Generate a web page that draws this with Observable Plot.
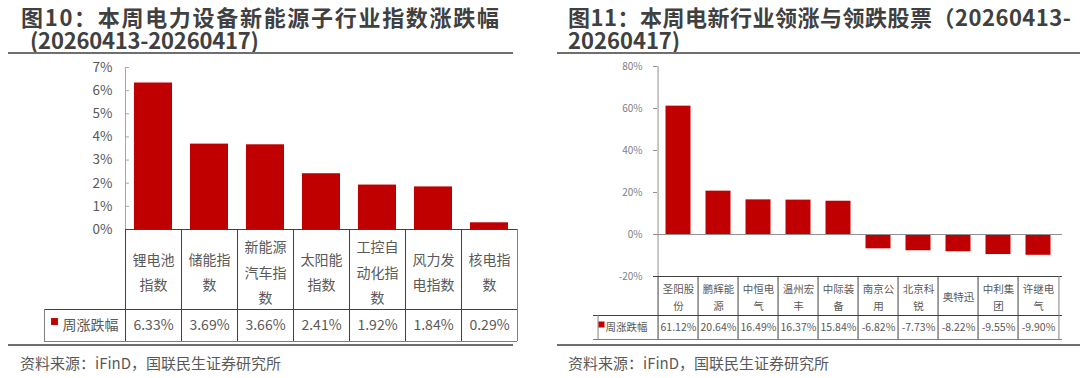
<!DOCTYPE html>
<html>
<head>
<meta charset="utf-8">
<script src="https://cdn.jsdelivr.net/npm/d3@7"></script>
<script src="https://cdn.jsdelivr.net/npm/@observablehq/plot@0.6"></script>
<style>
  html, body { margin: 0; padding: 0; background: #fff; }
  body { width: 1080px; height: 378px; position: relative; overflow: hidden;
         font-family: "Noto Sans CJK SC", "Noto Sans", sans-serif; }
  .abs { position: absolute; white-space: nowrap; }
  .title { font-size: 22px; font-weight: bold; color: #404040; line-height: 23px; letter-spacing: 0.5px; }
  .rule { position: absolute; height: 2px; background: #6f6f6f; }
  .src { font-size: 15px; color: #595959; line-height: 18px; }
</style>
</head>
<body>
<div class="abs title" style="left:21px; top:5px;"><span style="letter-spacing:1.7px;">图10：本周电力设备新能源子行业指数涨跌幅</span><br><span style="padding-left:9px; letter-spacing:-0.2px;">(20260413-20260417)</span></div>
<div class="rule" style="left:8px; top:52px; width:505px;"></div>
<div class="rule" style="left:8px; top:344px; width:505px;"></div>
<div class="abs src" style="left:20px; top:354px;">资料来源：iFinD，国联民生证券研究所</div>

<div class="abs title" style="left:568px; top:5px;">图11：本周电新行业领涨与领跌股票（20260413-<br><span style="letter-spacing:0px;">20260417)</span></div>
<div class="rule" style="left:557px; top:52px; width:523px;"></div>
<div class="rule" style="left:557px; top:344px; width:523px;"></div>
<div class="abs src" style="left:568px; top:354px;">资料来源：iFinD，国联民生证券研究所</div>

<div id="left" class="abs" style="left:0px; top:57px;"></div>
<div id="right" class="abs" style="left:540px; top:57px;"></div>

<script>
// ---------- data ----------
const leftCategories = ["锂电池指数", "储能指数", "新能源汽车指数", "太阳能指数", "工控自动化指数", "风力发电指数", "核电指数"];
const leftLabels = ["锂电池\n指数", "储能指\n数", "新能源\n汽车指\n数", "太阳能\n指数", "工控自\n动化指\n数", "风力发\n电指数", "核电指\n数"];
const leftValues = [6.33, 3.69, 3.66, 2.41, 1.92, 1.84, 0.29];
const leftTicks = [0, 1, 2, 3, 4, 5, 6, 7];

const rightCategories = ["圣阳股份", "鹏辉能源", "中恒电气", "温州宏丰", "中际装备", "南京公用", "北京科锐", "奥特迅", "中利集团", "许继电气"];
const rightLabels = ["圣阳股\n份", "鹏辉能\n源", "中恒电\n气", "温州宏\n丰", "中际装\n备", "南京公\n用", "北京科\n锐", "奥特迅", "中利集\n团", "许继电\n气"];
const rightValues = [61.12, 20.64, 16.49, 16.37, 15.84, -6.82, -7.73, -8.22, -9.55, -9.90];
const rightTicks = [-20, 0, 20, 40, 60, 80];

const seriesName = "周涨跌幅";
const barColor = "#C00000";

function tableChart(cfg) {
  const {cats, labels, values, ticks, domain, width, height, ml, mr, mt, mb,
         row1H, tableH, legendW, barInset, tickFont, tickPad, tickColor, axisColor,
         labelFont, lineHeight, valueFont, textColor, legendFont,
         sqDx, sqDy, sqR, legTextDx, zeroLine} = cfg;
  const plotW = width - ml - mr;
  const plotH = height - mt - mb;
  const step = plotW / cats.length;
  const data = cats.map((c, i) => ({cat: c, label: labels[i], v: values[i]}));
  const yMin = domain[0];
  const lineColor = "#404040";
  const marks = [
    Plot.barY(data, {x: "cat", y: "v", fill: barColor, insetLeft: barInset, insetRight: barInset}),
    // y axis line + inward ticks
    Plot.ruleX([cats[0]], {x: d => d, dx: -step / 2, stroke: axisColor}),
    Plot.ruleY(ticks, {y: d => d, insetRight: plotW - 4, stroke: axisColor}),
    Plot.axisY({ticks, tickFormat: d => d + "%", tickSize: 0, tickPadding: tickPad, label: null,
                fontSize: tickFont, color: tickColor}),
  ];
  if (zeroLine) marks.push(Plot.ruleY([0], {stroke: axisColor}));
  marks.push(
    // table borders
    Plot.ruleY([yMin], {y: d => d, stroke: lineColor}),
    Plot.ruleY([yMin], {y: d => d, dy: row1H, insetLeft: -legendW, stroke: lineColor}),
    Plot.ruleY([yMin], {y: d => d, dy: tableH, insetLeft: -legendW, stroke: "#808080"}),
    Plot.ruleX(cats, {x: d => d, dx: -step / 2, insetTop: plotH, insetBottom: -tableH, stroke: lineColor}),
    Plot.ruleX([cats[cats.length - 1]], {x: d => d, dx: step / 2, insetTop: plotH, insetBottom: -tableH, stroke: "#808080"}),
    Plot.ruleX([cats[0]], {x: d => d, dx: -step / 2 - legendW, insetTop: plotH + row1H, insetBottom: -tableH, stroke: "#808080"}),
    // category labels
    Plot.text(data, {x: "cat", text: "label", frameAnchor: "bottom", dy: row1H / 2,
                     lineAnchor: "middle", lineHeight, fontSize: labelFont, fill: textColor}),
    // values
    Plot.text(data, {x: "cat", text: d => d.v.toFixed(2) + "%", frameAnchor: "bottom",
                     dy: (row1H + tableH) / 2, lineAnchor: "middle", fontSize: valueFont, fill: textColor}),
    // legend key
    Plot.dot([seriesName], {frameAnchor: "bottom-left", dx: sqDx, dy: sqDy, symbol: "square",
                            r: sqR, fill: barColor}),
    Plot.text([seriesName], {frameAnchor: "bottom-left", dx: legTextDx, dy: (row1H + tableH) / 2,
                             textAnchor: "start", lineAnchor: "middle", fontSize: legendFont, fill: textColor})
  );
  return Plot.plot({
    width, height,
    marginLeft: ml, marginRight: mr, marginTop: mt, marginBottom: mb,
    style: {fontFamily: '"Noto Sans CJK SC", "Noto Sans", sans-serif', background: "transparent", overflow: "visible"},
    x: {domain: cats, padding: 0, axis: null},
    y: {domain},
    marks
  });
}

document.getElementById("left").append(tableChart({
  cats: leftCategories, labels: leftLabels, values: leftValues, ticks: leftTicks, domain: [0, 7],
  width: 540, height: 286, ml: 125, mr: 23, mt: 10, mb: 114,
  row1H: 80, tableH: 112, legendW: 81, barInset: 9,
  tickFont: 13.5, tickPad: 13, tickColor: "#595959", axisColor: "#a6a6a6",
  labelFont: 14, lineHeight: 1.8, valueFont: 14, textColor: "#595959", legendFont: 14,
  sqDx: -71, sqDy: 92, sqR: 3.9, legTextDx: -63, zeroLine: false
}));

document.getElementById("right").append(tableChart({
  cats: rightCategories, labels: rightLabels, values: rightValues, ticks: rightTicks, domain: [-20, 80],
  width: 540, height: 284, ml: 113, mr: 18, mt: 9, mb: 65,
  row1H: 39, tableH: 63, legendW: 60, barInset: 7.5,
  tickFont: 10, tickPad: 11, tickColor: "#7f7f7f", axisColor: "#909090",
  labelFont: 10.5, lineHeight: 1.6, valueFont: 10.5, textColor: "#595959", legendFont: 10.5,
  sqDx: -52, sqDy: 48, sqR: 3.4, legTextDx: -48, zeroLine: true
}));
</script>
</body>
</html>
